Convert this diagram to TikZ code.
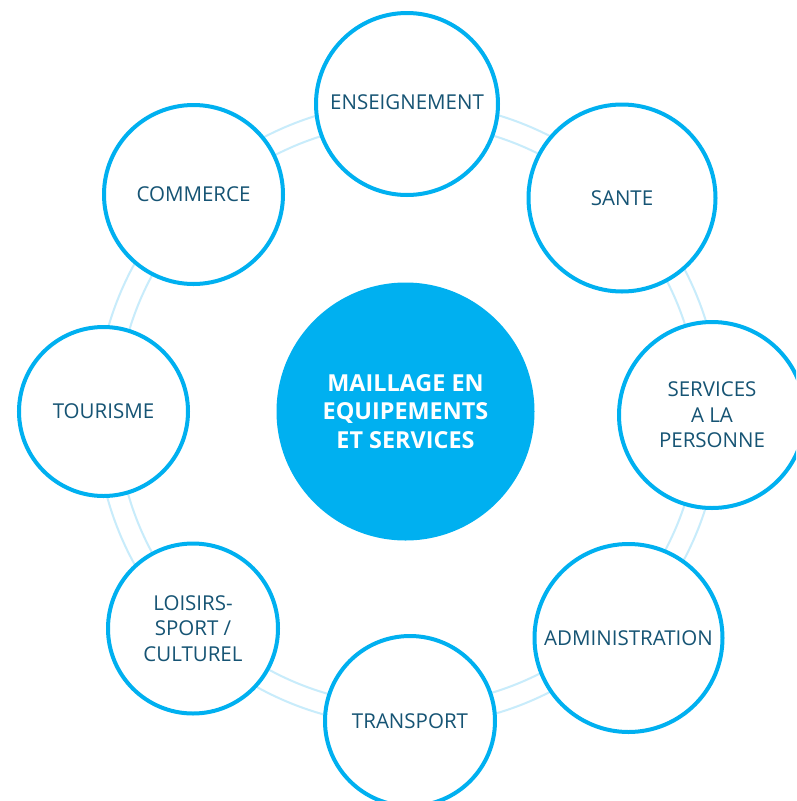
\documentclass[tikz,border=0pt]{standalone}
\usepackage{fontspec}
\setmainfont{Open Sans}
\definecolor{cblue}{RGB}{0,176,240}
\definecolor{ringblue}{RGB}{200,236,251}
\definecolor{txt}{RGB}{22,84,116}
\tikzset{
  topic/.style={circle, draw=cblue, line width=4pt, fill=white, inner sep=0pt,
    text=txt, align=center, font=\fontsize{20.5}{25.5}\selectfont},
  hub/.style={circle, fill=cblue, inner sep=0pt, minimum size=258pt,
    text=white, align=center, font=\fontsize{23.4}{28.5}\selectfont\bfseries},
  ringline/.style={draw=ringblue, line width=2pt},
}
\begin{document}
\begin{tikzpicture}[x=1pt,y=-1pt]
\useasboundingbox (0,0) rectangle (796,801);
\clip (0,0) rectangle (796,801);
\fill[white] (0,0) rectangle (796,801);
\coordinate (ringc) at (408,414);
\draw[ringline] (ringc) circle[radius=312];
\draw[ringline] (ringc) circle[radius=291];
\node[hub] (hub) at (405.5,411.5) {MAILLAGE EN\\EQUIPEMENTS\\ET SERVICES};
\node[topic, minimum size=182pt] (ens) at (407,104) {\raisebox{3pt}{ENSEIGNEMENT}};
\node[topic, minimum size=187pt] (sante) at (622,198) {SANTE};
\node[topic, minimum size=186pt] (serv) at (712,415) {SERVICES\\A LA\\PERSONNE};
\node[topic, minimum size=188pt] (admin) at (628.5,638) {ADMINISTRATION};
\node[topic, minimum size=170pt] (trans) at (410,721) {TRANSPORT};
\node[topic, minimum size=170pt] (lois) at (193,628.5) {LOISIRS-\\SPORT /\\CULTUREL};
\node[topic, minimum size=169pt] (tour) at (103.5,411.5) {TOURISME};
\node[topic, minimum size=179pt] (comm) at (193.5,194.5) {COMMERCE};
\end{tikzpicture}
\end{document}
